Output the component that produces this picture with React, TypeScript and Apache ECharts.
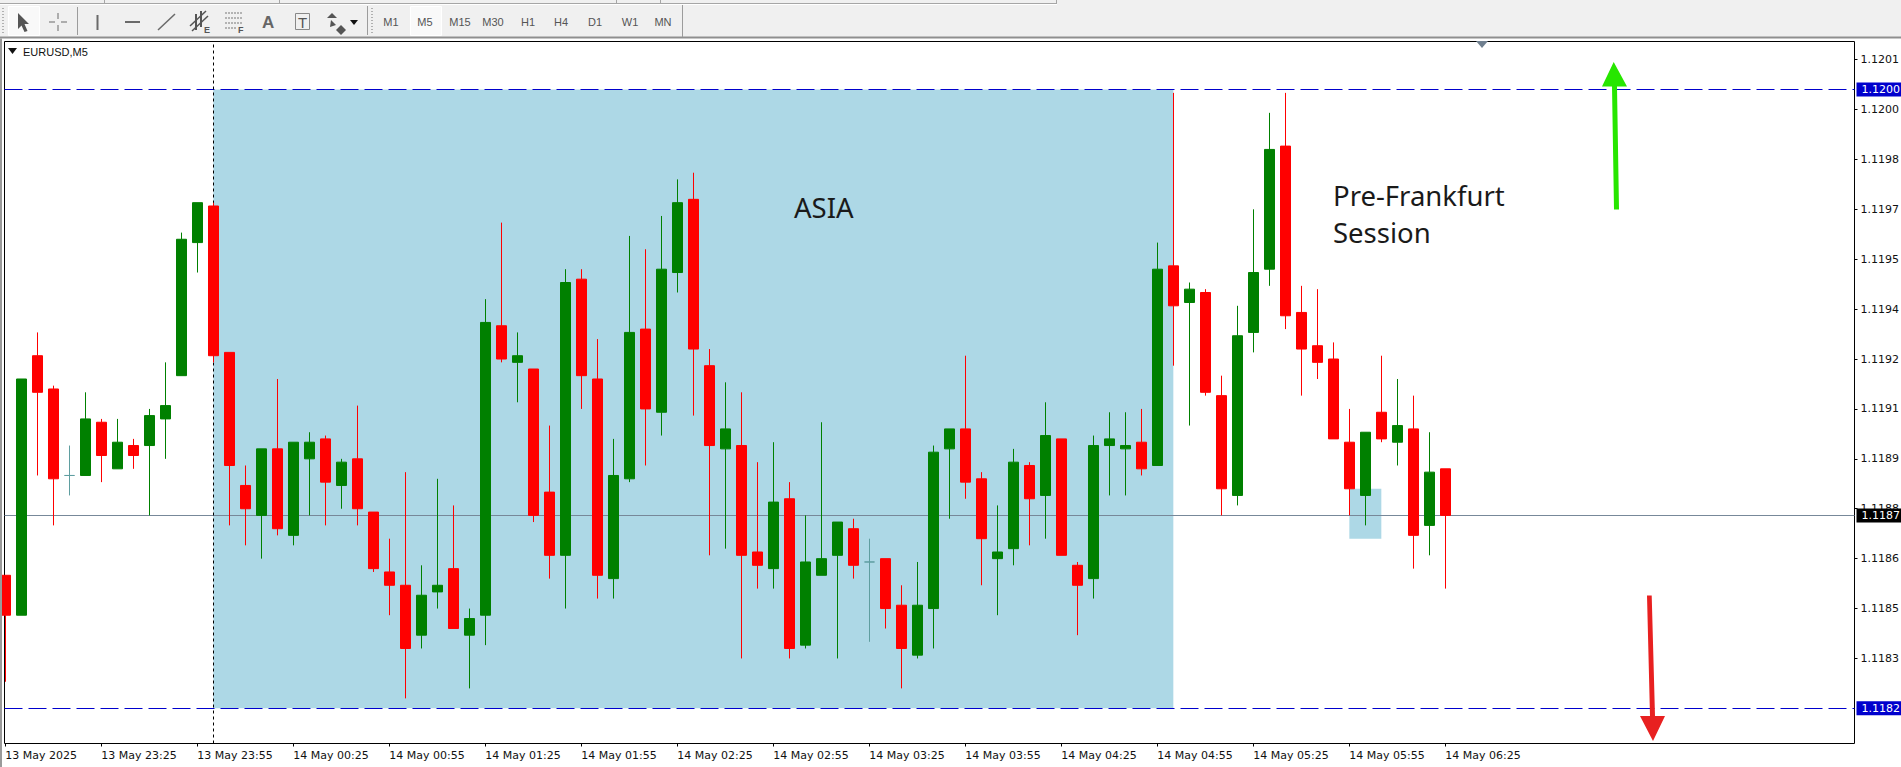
import React, { useEffect, useRef } from "react";
import * as echarts from "echarts";

const opens = [1.11860,1.11848,1.11926,1.11916,1.11890,1.11890,1.11906,1.11892,1.11899,1.11899,1.11907,1.11920,1.11960,1.11971,1.11927,1.11887,1.11878,1.11898,1.11872,1.11895,1.11901,1.11887,1.11895,1.11879,1.11861,1.11857,1.11842,1.11855,1.11862,1.11842,1.11848,1.11935,1.11924,1.11922,1.11885,1.11866,1.11949,1.11919,1.11859,1.11889,1.11934,1.11909,1.11951,1.11973,1.11923,1.11898,1.11899,1.11867,1.11862,1.11883,1.11839,1.11860,1.11866,1.11874,1.11864,1.11865,1.11851,1.11836,1.11850,1.11898,1.11904,1.11889,1.11865,1.11868,1.11893,1.11884,1.11901,1.11863,1.11859,1.11899,1.11898,1.11900,1.11893,1.11953,1.11942,1.11945,1.11914,1.11884,1.11933,1.11952,1.11989,1.11939,1.11929,1.11925,1.11900,1.11884,1.11909,1.11900,1.11904,1.11875,1.11892];
const highs = [1.11860,1.11919,1.11933,1.11917,1.11899,1.11915,1.11907,1.11907,1.11901,1.11910,1.11924,1.11963,1.11972,1.11972,1.11927,1.11893,1.11898,1.11919,1.11900,1.11903,1.11902,1.11895,1.11911,1.11879,1.11871,1.11891,1.11863,1.11889,1.11881,1.11850,1.11943,1.11966,1.11933,1.11922,1.11905,1.11952,1.11952,1.11931,1.11901,1.11962,1.11958,1.11968,1.11979,1.11981,1.11928,1.11918,1.11915,1.11894,1.11900,1.11888,1.11878,1.11906,1.11876,1.11877,1.11871,1.11865,1.11857,1.11864,1.11899,1.11904,1.11926,1.11891,1.11881,1.11898,1.11894,1.11912,1.11901,1.11864,1.11902,1.11909,1.11909,1.11910,1.11960,1.12005,1.11948,1.11946,1.11920,1.11941,1.11970,1.11999,1.12005,1.11947,1.11946,1.11930,1.11910,1.11903,1.11926,1.11919,1.11914,1.11903,1.11892];
const lows = [1.11828,1.11848,1.11890,1.11875,1.11884,1.11890,1.11888,1.11892,1.11892,1.11878,1.11895,1.11920,1.11951,1.11924,1.11875,1.11869,1.11865,1.11872,1.11869,1.11878,1.11875,1.11880,1.11875,1.11861,1.11848,1.11823,1.11838,1.11850,1.11844,1.11826,1.11839,1.11924,1.11912,1.11876,1.11859,1.11850,1.11910,1.11853,1.11853,1.11888,1.11893,1.11902,1.11945,1.11908,1.11866,1.11868,1.11835,1.11856,1.11856,1.11835,1.11838,1.11860,1.11835,1.11859,1.11840,1.11844,1.11826,1.11835,1.11838,1.11877,1.11883,1.11857,1.11848,1.11863,1.11869,1.11871,1.11866,1.11842,1.11853,1.11884,1.11884,1.11890,1.11893,1.11923,1.11905,1.11914,1.11878,1.11881,1.11927,1.11947,1.11934,1.11914,1.11919,1.11901,1.11878,1.11875,1.11900,1.11893,1.11862,1.11866,1.11856];
const closes = [1.11848,1.11919,1.11915,1.11889,1.11890,1.11907,1.11896,1.11900,1.11896,1.11908,1.11911,1.11961,1.11972,1.11926,1.11893,1.11880,1.11898,1.11874,1.11900,1.11900,1.11888,1.11894,1.11880,1.11862,1.11857,1.11838,1.11854,1.11857,1.11844,1.11847,1.11936,1.11925,1.11926,1.11878,1.11866,1.11948,1.11920,1.11860,1.11890,1.11933,1.11910,1.11952,1.11972,1.11928,1.11899,1.11904,1.11866,1.11863,1.11882,1.11838,1.11864,1.11865,1.11876,1.11863,1.11864,1.11850,1.11838,1.11851,1.11897,1.11904,1.11888,1.11871,1.11867,1.11894,1.11883,1.11902,1.11866,1.11857,1.11899,1.11901,1.11899,1.11892,1.11952,1.11941,1.11946,1.11915,1.11886,1.11932,1.11951,1.11988,1.11938,1.11928,1.11924,1.11901,1.11886,1.11903,1.11901,1.11905,1.11872,1.11891,1.11878];

const timeLabels = ["13 May 2025","13 May 23:25","13 May 23:55","14 May 00:25","14 May 00:55","14 May 01:25","14 May 01:55","14 May 02:25","14 May 02:55","14 May 03:25","14 May 03:55","14 May 04:25","14 May 04:55","14 May 05:25","14 May 05:55","14 May 06:25"];
const labelEvery = 6;
const priceTicks = [1.12015,1.12000,1.11985,1.11970,1.11955,1.11940,1.11925,1.11910,1.11895,1.11880,1.11865,1.11850,1.11835];
const upperLevel = 1.12006;
const lowerLevel = 1.11820;
const lastPrice = 1.11878;
const separatorBar = 13;
const asiaZone = { startBar: 13, endBar: 73, top: upperLevel, bottom: lowerLevel };
const retestZone = { startBar: 84, endBar: 86, top: 1.11886, bottom: 1.11871 };
const timeframes = [["M1",391],["M5",425],["M15",460],["M30",493],["H1",528],["H4",561],["D1",595],["W1",630],["MN",663]] as [string, number][];

const UI = "'Liberation Sans', Arial, sans-serif";
const AXF = "'DejaVu Sans', sans-serif";
const NOTE = "'Noto Sans', 'Open Sans', sans-serif";
const ICON = "#5c5c5c";

const shownPrice = (v: number) => (Math.floor(v * 10000 + 1e-6) / 10000).toFixed(4);

function seg(x1: number, y1: number, x2: number, y2: number, stroke = ICON, lineWidth = 1, extra: any = {}) {
  return { type: "line", silent: true, z: 50, shape: { x1, y1, x2, y2 }, style: { stroke, lineWidth, ...extra } };
}
function rect(x: number, y: number, width: number, height: number, fill: string, stroke?: string) {
  return { type: "rect", silent: true, z: 49, shape: { x, y, width, height }, style: { fill, stroke: stroke ?? "none", lineWidth: stroke ? 1 : 0 } };
}
function label(text: string, x: number, y: number, fontSize: number, fill: string, fontFamily: string, extra: any = {}) {
  return { type: "text", silent: true, z: 50, x, y, style: { text, fontSize, fill, fontFamily, textAlign: "left", textVerticalAlign: "middle", ...extra } };
}
function poly(points: number[][], fill: string) {
  return { type: "polygon", silent: true, z: 50, shape: { points }, style: { fill } };
}

function toolbar() {
  const out: any[] = [
    rect(0, 0, 1901, 37, "#f0f0f0"),
    seg(0, 3.5, 1056, 3.5, "#a6a6a6"),
    seg(0, 4.5, 1057, 4.5, "#ffffff"),
    seg(1056.5, 0, 1056.5, 4, "#a6a6a6"),
    seg(104.5, 0, 104.5, 3, "#a6a6a6"),
    seg(279.5, 0, 279.5, 3, "#a6a6a6"),
    seg(616.5, 0, 616.5, 3, "#a6a6a6"),
    seg(660.5, 0, 660.5, 3, "#a6a6a6"),
    seg(0, 37.5, 1901, 37.5, "#8f8f8f", 2),
    rect(0, 38.5, 2, 729, "#9a9a9a"),
    rect(8.5, 6.5, 31, 29, "#f9f9f9", "#ffffff"),
    rect(410.5, 6.5, 31, 29, "#f9f9f9", "#ffffff"),
    seg(77.5, 7, 77.5, 35, "#9c9c9c"),
    seg(367.5, 6, 367.5, 35, "#9c9c9c"),
    seg(682.5, 5, 682.5, 37, "#9c9c9c"),
    seg(3, 8, 3, 35, "#b0b0b0", 2, { lineDash: [1, 2] }),
    seg(372, 8, 372, 35, "#b0b0b0", 2, { lineDash: [1, 2] }),
    poly([[18,13],[29,24],[24.5,24],[27.5,31],[24.5,32],[21.5,25.5],[18,29]], "#555555"),
    seg(58, 13, 58, 19, "#6a6a6a"), seg(58, 25, 58, 31, "#6a6a6a"),
    seg(49, 22, 55, 22, "#6a6a6a"), seg(61, 22, 67, 22, "#6a6a6a"),
    seg(97.5, 15, 97.5, 30, "#6a6a6a", 2),
    seg(125, 22, 140, 22, "#6a6a6a", 2),
    seg(158, 30, 175, 14, "#6a6a6a", 1.5),
    seg(190, 26, 206, 11, "#555555", 1.5), seg(192, 31, 208, 16, "#555555", 1.5),
    seg(196, 14, 196, 30, "#555555", 2), seg(201, 11, 201, 27, "#555555", 2),
    label("E", 204, 30, 9, "#555555", UI, { fontWeight: "bold" }),
    seg(225, 13, 243, 13, "#777777", 1, { lineDash: [2, 1] }),
    seg(225, 18, 243, 18, "#777777", 1, { lineDash: [2, 1] }),
    seg(225, 23, 243, 23, "#777777", 1, { lineDash: [2, 1] }),
    seg(225, 28, 237, 28, "#777777", 1, { lineDash: [2, 1] }),
    label("F", 238, 30, 9, "#555555", UI, { fontWeight: "bold" }),
    label("A", 262, 22, 17, "#666666", UI, { fontWeight: "bold" }),
    rect(295.5, 13.5, 14, 16, "none", "#888888"),
    label("T", 298, 22, 15, "#555555", UI),
    poly([[332,13],[337,18],[327,18]], "#555555"),
    poly([[331,20],[336,25],[330,27]], "#555555"),
    poly([[341,25],[346,30],[341,35],[336,30]], "#555555"),
    poly([[350,20],[358,20],[354,25]], "#111111"),
    poly([[8,48],[17,48],[12.5,54]], "#111111"),
    label("EURUSD,M5", 23, 51.5, 11, "#111111", UI),
    poly([[1476,41],[1488,41],[1482,48]], "#708090"),
    poly([[1602,86.5],[1613.7,62],[1627,86.5],[1617,86.5],[1619,209.6],[1614,209.6],[1612,86.5]], "#27e600"),
    poly([[1647,595.6],[1651.7,595.6],[1655,716],[1665,716],[1653,741],[1640,716],[1650,716]], "#e82020"),
    label("ASIA", 794, 207, 27.5, "#1a1a1a", NOTE),
    label("Pre-Frankfurt", 1333, 195, 27.5, "#1a1a1a", NOTE),
    label("Session", 1333, 232, 27.5, "#1a1a1a", NOTE),
  ];
  for (const [t, x] of timeframes) {
    out.push(label(t, x, 22, 11, "#555555", UI, { textAlign: "center" }));
  }
  return out;
}

export default function App() {
  const ref = useRef<HTMLDivElement>(null);
  useEffect(() => {
    document.body.style.margin = "0";
    document.documentElement.style.overflow = "hidden";
    const chart = echarts.init(ref.current!, undefined, { renderer: "svg" });
    const candles = opens.map((o, i) => [i, o, closes[i], lows[i], highs[i]]);
    const tickBars = timeLabels.map((_, i) => i * labelEvery);
    const priceTag = (value: number, backgroundColor: string) => ({
      show: true,
      position: "end",
      distance: 2,
      formatter: shownPrice(value),
      color: "#ffffff",
      backgroundColor,
      padding: [1, 2, 1, 5],
      lineHeight: 12,
      fontSize: 11,
      fontFamily: AXF,
    });
    const option: any = {
      animation: false,
      backgroundColor: "#ffffff",
      grid: { left: 4.5, top: 41.5, width: 1850, height: 702, outerBoundsMode: "none", show: true, borderColor: "#000000", borderWidth: 1, backgroundColor: "#ffffff" },
      xAxis: {
        type: "value",
        min: -0.052,
        max: 115.573,
        axisLine: { show: false, onZero: false },
        splitLine: { show: false },
        axisTick: { show: true, length: 3, lineStyle: { color: "#000000" }, customValues: tickBars },
        axisLabel: {
          show: true,
          customValues: tickBars,
          align: "left",
          margin: 6,
          fontSize: 11,
          fontFamily: AXF,
          color: "#111111",
          formatter: (v: number) => timeLabels[Math.round(v / labelEvery)] ?? "",
        },
      },
      yAxis: {
        type: "value",
        position: "right",
        min: 1.1180944,
        max: 1.1202044,
        axisLine: { show: false, onZero: false },
        splitLine: { show: false },
        axisTick: { show: true, inside: false, length: 3, lineStyle: { color: "#000000" }, customValues: priceTicks },
        axisLabel: {
          show: true,
          customValues: priceTicks,
          margin: 6,
          fontSize: 11,
          fontFamily: AXF,
          color: "#111111",
          formatter: (v: number) => shownPrice(v),
        },
      },
      series: [
        {
          type: "line",
          data: [],
          silent: true,
          z: 1,
          markArea: {
            silent: true,
            z: 1,
            itemStyle: { color: "#add8e6", opacity: 1, borderWidth: 0 },
            label: { show: false },
            data: [asiaZone, retestZone].map((a) => [
              { xAxis: a.startBar, yAxis: a.top },
              { xAxis: a.endBar, yAxis: a.bottom },
            ]),
          },
          markLine: {
            silent: true,
            z: 2,
            precision: 5,
            symbol: "none",
            animation: false,
            data: [
              { yAxis: upperLevel, lineStyle: { color: "#0000cd", width: 1, type: [18, 6], opacity: 1 }, label: priceTag(upperLevel, "#0000cd") },
              { yAxis: lowerLevel, lineStyle: { color: "#0000cd", width: 1, type: [18, 6], opacity: 1 }, label: priceTag(lowerLevel, "#0000cd") },
              { yAxis: lastPrice, lineStyle: { color: "#778899", width: 1, type: "solid", opacity: 1 }, label: priceTag(lastPrice, "#000000") },
              { xAxis: separatorBar, lineStyle: { color: "#000000", width: 1, type: [3, 3], opacity: 1 }, label: { show: false } },
            ],
          },
        },
        {
          type: "candlestick",
          z: 3,
          silent: true,
          barWidth: 10,
          encode: { x: 0, y: [1, 2, 3, 4] },
          itemStyle: {
            color: "#008000",
            color0: "#ff0000",
            borderColor: "#008000",
            borderColor0: "#ff0000",
            borderColorDoji: "#5f9ea0",
            borderWidth: 1,
          },
          data: candles,
        },
      ],
      graphic: { elements: toolbar() },
    };
    chart.setOption(option);
    return () => chart.dispose();
  }, []);
  return <div ref={ref} style={{ width: 1901, height: 767 }} />;
}
